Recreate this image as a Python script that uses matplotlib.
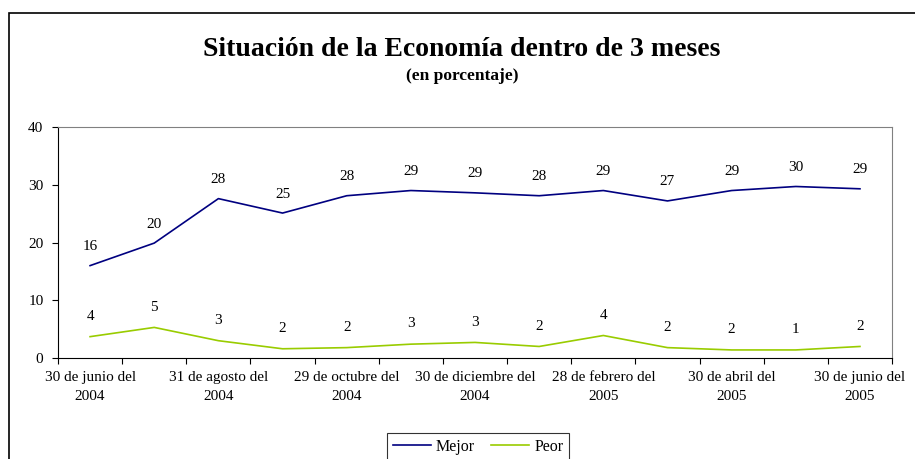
import matplotlib.pyplot as plt
from matplotlib.patches import Rectangle
import numpy as np

plt.rcParams['font.family'] = ['Liberation Serif', 'DejaVu Serif']

# categories (bi-monthly survey dates)
fechas = ["30 de junio del\n2004", "", "31 de agosto del\n2004", "",
          "29 de octubre del\n2004", "", "30 de diciembre del\n2004", "",
          "28 de febrero del\n2005", "", "30 de abril del\n2005", "",
          "30 de junio del\n2005"]

# plotted values
mejor = [16.0, 19.9, 27.6, 25.1, 28.1, 29.0, 28.6, 28.1, 29.0, 27.2, 29.0, 29.7, 29.3]
peor = [3.7, 5.3, 3.0, 1.6, 1.8, 2.4, 2.7, 2.0, 3.9, 1.8, 1.4, 1.4, 2.0]

# data labels as printed on the chart
mejor_txt = ["16", "20", "28", "25", "28", "29", "29", "28", "29", "27", "29", "30", "29"]
peor_txt = ["4", "5", "3", "2", "2", "3", "3", "2", "4", "2", "2", "1", "2"]


def main():
    fig = plt.figure(figsize=(9.15, 4.59), dpi=100)
    ax = fig.add_axes([0.0634, 0.2200, 0.9115, 0.5033])

    # outer chart frame, running off the right and bottom edges
    fig.patches.append(Rectangle((9 / 915, -0.1), 1.0, 1 - 13 / 459 + 0.1,
                                 transform=fig.transFigure, fill=False,
                                 edgecolor="black", linewidth=1.2))

    x = np.arange(len(mejor))
    ax.plot(x, mejor, color="#000080", linewidth=1.2, label="Mejor")
    ax.plot(x, peor, color="#99CC00", linewidth=1.2, label="Peor")

    for xi, v, t in zip(x, mejor, mejor_txt):
        ax.annotate(t, (xi, v), xytext=(0, 9), textcoords="offset points",
                    ha="center", va="bottom", fontsize=11)
    for xi, v, t in zip(x, peor, peor_txt):
        ax.annotate(t, (xi, v), xytext=(0, 10), textcoords="offset points",
                    ha="center", va="bottom", fontsize=11)

    ax.set_xlim(-0.5, len(mejor) - 0.5)
    ax.set_ylim(0, 40)
    ax.set_yticks([0, 10, 20, 30, 40])
    ax.tick_params(axis="y", direction="out", length=4.5, width=0.8,
                   labelsize=11, pad=6)

    # major ticks at category boundaries, labels on minor ticks at centres
    ax.set_xticks(np.arange(-0.5, len(mejor), 1.0))
    ax.set_xticklabels([])
    ax.set_xticks(x[::2], minor=True)
    ax.set_xticklabels([f for f in fechas if f], minor=True, fontsize=11,
                       linespacing=1.55)
    ax.tick_params(axis="x", which="major", direction="out", length=4.5, width=0.8)
    ax.tick_params(axis="x", which="minor", length=0, pad=9.5)

    for s in ["top", "right"]:
        ax.spines[s].set_color("#808080")
    for s in ["left", "bottom"]:
        ax.spines[s].set_color("black")

    fig.text(0.505, 0.893, "Situación de la Economía dentro de 3 meses",
             ha="center", va="center", fontsize=20, fontweight="bold")
    fig.text(0.505, 0.835, "(en porcentaje)", ha="center", va="center",
             fontsize=12.5, fontweight="bold")

    leg = fig.legend(loc="upper center", bbox_to_anchor=(478 / 915, 1 - 425 / 459),
                     ncol=2, fontsize=11.5, frameon=True, fancybox=False,
                     handlelength=2.4, handletextpad=0.3, columnspacing=1.0,
                     borderpad=0.35)
    leg.get_frame().set_edgecolor("black")
    leg.get_frame().set_linewidth(0.8)

    fig.savefig("out.png", dpi=100)


if __name__ == "__main__":
    main()
